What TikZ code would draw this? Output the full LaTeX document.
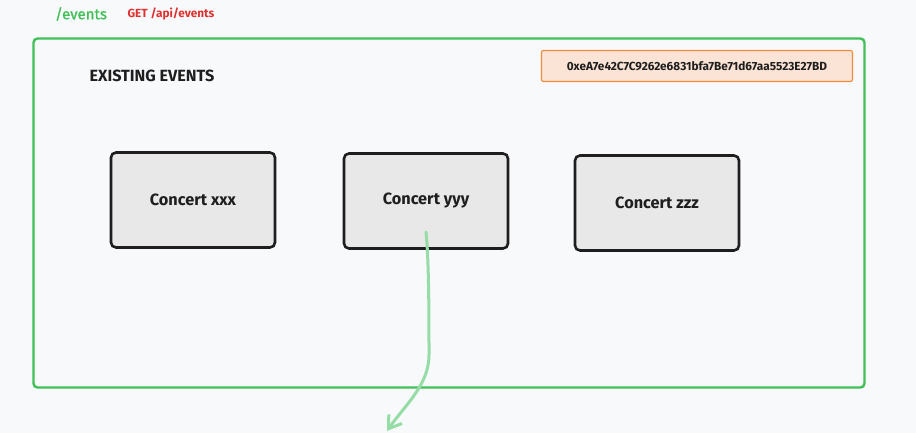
\documentclass[tikz,border=0pt]{standalone}
\usepackage{fontspec}
\setmainfont{Fira Sans}
\usepackage{xcolor}
\usetikzlibrary{arrows.meta, positioning}

\definecolor{bgpaper}{HTML}{F8F9FB}
\definecolor{framegreen}{HTML}{40C057}
\definecolor{linkred}{HTML}{E03131}
\definecolor{addrfill}{HTML}{FBE4D5}
\definecolor{addrline}{HTML}{F08C3C}
\definecolor{cardfill}{HTML}{E8E8E8}
\definecolor{inkdark}{HTML}{1E1E1E}
\definecolor{flowgreen}{HTML}{96DCA6}

\tikzset{
  card/.style={draw=inkdark, fill=cardfill, line width=2.6pt, rounded corners=5pt,
    minimum width=164pt, minimum height=95pt, font=\bfseries\fontsize{16.3}{18}\selectfont, text=inkdark},
  addrbox/.style={draw=addrline, fill=addrfill, line width=1.2pt, rounded corners=2pt,
    minimum width=311pt, minimum height=31pt, font=\bfseries\fontsize{11.8}{13}\selectfont, text=inkdark},
}

\begin{document}
\begin{tikzpicture}[x=1pt, y=-1pt]
  \useasboundingbox[fill=bgpaper] (0,0) rectangle (916,433);
  % header
  \node[text=framegreen, font=\fontsize{15}{17}\selectfont\addfontfeatures{FakeBold=1}] (route) at (81,14) {/events};
  \node[text=linkred, font=\bfseries\fontsize{11.8}{13}\selectfont] (api) at (171,14) {GET /api/events};
  % frame
  \node[draw=framegreen, line width=2.4pt, rounded corners=4pt,
    minimum width=831pt, minimum height=349pt] (frame) at (449,213) {};
  \node[text=inkdark, font=\bfseries\fontsize{16.2}{18}\selectfont] (title) at (152,76) {EXISTING EVENTS};
  \node[addrbox] (addr) at (697,66) {0xeA7e42C7C9262e6831bfa7Be71d67aa5523E27BD};
  % events
  \node[card] (xxx) at (193,200) {Concert xxx};
  \node[card] (yyy) at (426,201) {Concert yyy};
  \node[card] (zzz) at (657,203) {Concert zzz};
  % link out
  \coordinate (start) at (426,232);
  \coordinate (end) at (387,431);
  \draw[flowgreen, line width=3pt, line cap=round,
    -{Straight Barb[length=12pt, width=16pt, line width=3pt]}]
    (start) .. controls (429,260) and (429,320) .. (429,355)
    .. controls (429,385) and (405,405) .. (end);
\end{tikzpicture}
\end{document}
